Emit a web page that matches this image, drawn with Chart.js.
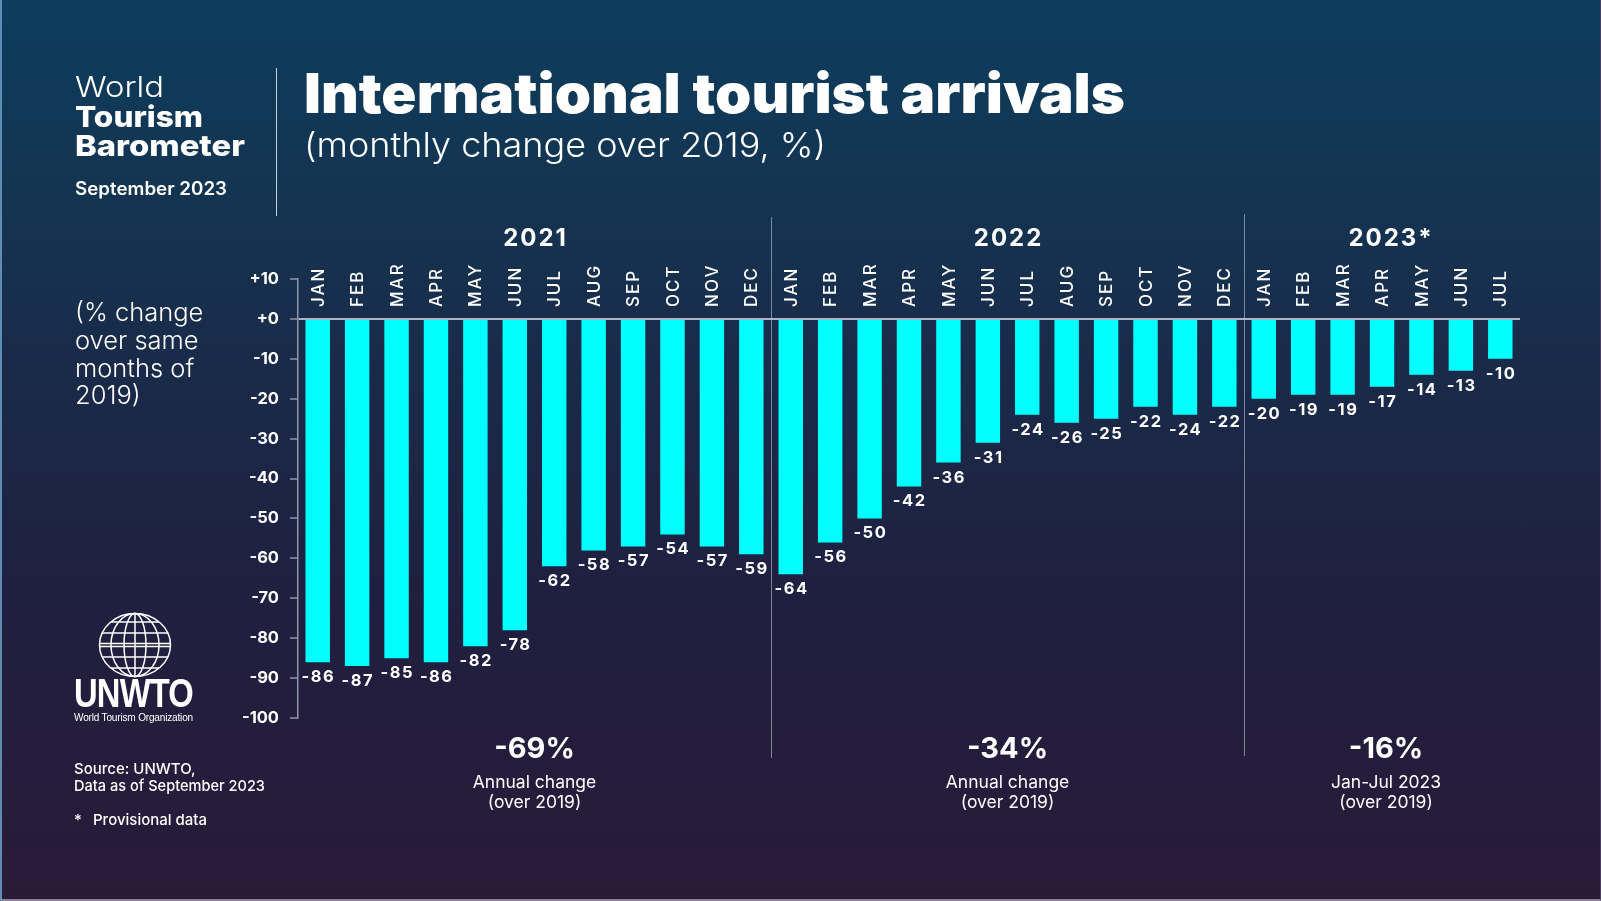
<!DOCTYPE html>
<html>
<head>
<meta charset="utf-8">
<script src="https://cdn.jsdelivr.net/npm/chart.js@4.4.0/dist/chart.umd.min.js"></script>
<style>
  html, body { margin: 0; padding: 0; }
  body {
    width: 1601px; height: 901px; overflow: hidden; position: relative;
    background: linear-gradient(180deg, #0d3d5e 0%, #133552 20%, #1a2a49 42%, #201f3f 68%, #2a1a38 100%);
    font-family: Inter, "Open Sans", sans-serif; color: #fff;
  }
  #frame { position: absolute; left: 0; top: 0; width: 1601px; height: 901px; box-sizing: border-box;
    border-left: 2px solid #5e8cb2; border-right: 1px solid #4a3f5e; border-bottom: 2px solid #8a8496; pointer-events: none; }
  canvas { position: absolute; left: 0; top: 0; }
  .t { position: absolute; white-space: nowrap; line-height: 1; transform-origin: 0 0; }
</style>
</head>
<body>
<canvas id="c" width="1601" height="901"></canvas>

<div class="t" data-x="75" data-b="97" data-w="89" style="font-size:29px;font-weight:300">World</div>
<div class="t" data-x="75" data-b="127" data-w="128" style="font-size:29px;font-weight:800">Tourism</div>
<div class="t" data-x="75" data-b="156" data-w="170" style="font-size:29px;font-weight:800">Barometer</div>
<div class="t" data-x="75" data-b="195" data-w="152" style="font-size:18px;font-weight:600">September 2023</div>
<div style="position:absolute;left:276px;top:68px;width:1px;height:148px;background:#c9cfdb"></div>

<div class="t" data-x="304" data-b="113" data-w="821" style="font-size:55px;font-weight:900">International tourist arrivals</div>
<div class="t" data-x="304" data-b="157" data-w="522" style="font-size:34px;font-weight:300">(monthly change over 2019, %)</div>

<div class="t" data-x="75" data-b="321" style="font-size:25.5px;font-weight:300">(% change</div>
<div class="t" data-x="75" data-b="349" style="font-size:25.5px;font-weight:300">over same</div>
<div class="t" data-x="75" data-b="377" style="font-size:25.5px;font-weight:300">months of</div>
<div class="t" data-x="75" data-b="404" style="font-size:25.5px;font-weight:300">2019)</div>

<svg style="position:absolute;left:97px;top:611px" width="76" height="68" viewBox="-38 -34 76 68">
  <g fill="none" stroke="#fff" stroke-width="1.5">
    <ellipse cx="0" cy="0" rx="35.5" ry="31.5"/>
    <ellipse cx="0" cy="0" rx="24" ry="31.5"/>
    <ellipse cx="0" cy="0" rx="11" ry="31.5"/>
    <line x1="0" y1="-31.5" x2="0" y2="31.5"/>
    <line x1="-24" y1="-23" x2="24" y2="-23"/>
    <line x1="-33" y1="-12" x2="33" y2="-12"/>
    <line x1="-35.5" y1="-1.5" x2="35.5" y2="-1.5"/>
    <line x1="-35.5" y1="1.5" x2="35.5" y2="1.5"/>
    <line x1="-33" y1="12" x2="33" y2="12"/>
    <line x1="-24" y1="23" x2="24" y2="23"/>
  </g>
</svg>
<div class="t" data-x="74" data-b="707" data-w="119" style="font-family:'Liberation Sans',Arial,sans-serif;font-size:40px;font-weight:700;letter-spacing:-1px">UNWTO</div>
<div class="t" data-x="74" data-b="721" data-w="119" style="font-family:'Liberation Sans',Arial,sans-serif;font-size:11px;letter-spacing:-0.2px">World Tourism Organization</div>

<div class="t" data-x="74" data-b="774" style="font-size:15px;font-weight:500">Source: UNWTO,</div>
<div class="t" data-x="74" data-b="791" data-w="191" style="font-size:15px;font-weight:500">Data as of September 2023</div>
<div class="t" data-x="74" data-b="825" style="font-size:15px;font-weight:500">*</div>
<div class="t" data-x="93" data-b="825" style="font-size:15px;font-weight:500">Provisional data</div>

<div id="frame"></div>

<script>
// months per year
const months2021 = ['JAN', 'FEB', 'MAR', 'APR', 'MAY', 'JUN', 'JUL', 'AUG', 'SEP', 'OCT', 'NOV', 'DEC'];
const months2022 = ['JAN', 'FEB', 'MAR', 'APR', 'MAY', 'JUN', 'JUL', 'AUG', 'SEP', 'OCT', 'NOV', 'DEC'];
const months2023 = ['JAN', 'FEB', 'MAR', 'APR', 'MAY', 'JUN', 'JUL'];

// % change over the same month of 2019
const values2021 = [-86, -87, -85, -86, -82, -78, -62, -58, -57, -54, -57, -59];
const values2022 = [-64, -56, -50, -42, -36, -31, -24, -26, -25, -22, -24, -22];
const values2023 = [-20, -19, -19, -17, -14, -13, -10];

const yearLabels = ['2021', '2022', '2023*'];
const yearTotals = ['-69%', '-34%', '-16%'];
const yearNotes = [['Annual change', '(over 2019)'], ['Annual change', '(over 2019)'], ['Jan-Jul 2023', '(over 2019)']];

const yMin = -100, yMax = 10, yStep = 10;

const groups = [months2021, months2022, months2023];
const allMonths = [].concat(months2021, months2022, months2023);
const allValues = [].concat(values2021, values2022, values2023);

// place html text on its baseline, optionally squeezed to a width
document.querySelectorAll('.t').forEach(el => {
  el.style.left = el.dataset.x + 'px';
  const probe = document.createElement('span');
  probe.style.cssText = 'display:inline-block;width:0;height:0;vertical-align:baseline';
  el.appendChild(probe);
  const off = probe.offsetTop;
  el.removeChild(probe);
  el.style.top = (el.dataset.b - off) + 'px';
  if (el.dataset.w) {
    const w = el.getBoundingClientRect().width;
    el.style.transform = 'scaleX(' + (el.dataset.w / w) + ')';
  }
});

// the last group's headings sit slightly right of its bar centre
const headNudge = [0, 0, 8];
const totalNudge = [0, 0, 4];

const annotations = {
  id: 'annotations',
  beforeDatasetsDraw(chart) {
    const {ctx, scales: {x}} = chart;
    ctx.save();
    ctx.strokeStyle = 'rgba(205,212,228,0.55)';
    ctx.lineWidth = 1;
    let idx = 0;
    groups.slice(0, -1).forEach((g, gi) => {
      idx += g.length;
      const px = Math.round((x.getPixelForValue(idx - 1) + x.getPixelForValue(idx)) / 2) + 0.5;
      ctx.beginPath();
      ctx.moveTo(px, gi === 0 ? 217 : 214);
      ctx.lineTo(px, gi === 0 ? 758 : 756);
      ctx.stroke();
    });
    ctx.restore();
  },
  afterDatasetsDraw(chart) {
    const {ctx, scales: {x, y}} = chart;
    const meta = chart.getDatasetMeta(0);
    ctx.save();
    ctx.fillStyle = '#fff';

    // values under each bar
    ctx.font = '700 16.5px Inter';
    ctx.letterSpacing = '1.5px';
    ctx.textAlign = 'center';
    ctx.textBaseline = 'middle';
    meta.data.forEach((bar, i) => {
      ctx.fillText(String(allValues[i]), bar.x + 0.75, bar.y + 15);
    });

    // rotated month names above the zero line
    ctx.font = '500 17px Inter';
    ctx.letterSpacing = '2px';
    ctx.textAlign = 'left';
    const zeroY = y.getPixelForValue(0);
    meta.data.forEach((bar, i) => {
      ctx.save();
      ctx.translate(bar.x + 1, zeroY - 12);
      ctx.rotate(-Math.PI / 2);
      ctx.fillText(allMonths[i], 0, 0);
      ctx.restore();
    });

    // year headers and yearly totals
    ctx.textAlign = 'center';
    ctx.textBaseline = 'alphabetic';
    let start = 0;
    groups.forEach((g, gi) => {
      const cx = (x.getPixelForValue(start) + x.getPixelForValue(start + g.length - 1)) / 2;
      ctx.font = '700 24px Inter';
      ctx.letterSpacing = '2px';
      ctx.fillText(yearLabels[gi], cx + 1 + headNudge[gi], 246);
      ctx.font = '700 29px Inter';
      ctx.letterSpacing = '0px';
      ctx.fillText(yearTotals[gi], cx + totalNudge[gi], 758);
      ctx.font = '400 17.5px Inter';
      ctx.fillText(yearNotes[gi][0], cx + totalNudge[gi], 788);
      ctx.fillText(yearNotes[gi][1], cx + totalNudge[gi], 808);
      start += g.length;
    });
    ctx.restore();
  }
};

new Chart(document.getElementById('c'), {
  type: 'bar',
  data: {
    labels: allMonths,
    datasets: [{
      data: allValues,
      backgroundColor: '#00ffff',
      barPercentage: 0.62,
      categoryPercentage: 1
    }]
  },
  options: {
    responsive: false,
    animation: false,
    layout: { padding: { left: 228, right: 81, top: 279, bottom: 183 } },
    plugins: { legend: { display: false }, tooltip: { enabled: false } },
    scales: {
      x: { display: false },
      y: {
        min: yMin,
        max: yMax,
        afterFit(scale) { scale.width = 70; },
        ticks: {
          stepSize: yStep,
          color: '#fff',
          padding: 11,
          font: { family: 'Inter', weight: '700', size: 16.5 },
          callback: v => (v >= 0 ? '+' : '') + v
        },
        grid: {
          color: c => (c.tick && c.tick.value === 0) ? '#aab3c5' : 'rgba(0,0,0,0)',
          lineWidth: 2,
          tickLength: 8,
          tickColor: '#8f97a8',
          tickWidth: 1.5
        },
        border: { display: true, color: '#8f97a8', width: 1.5 }
      }
    }
  },
  plugins: [annotations]
});
</script>
</body>
</html>
